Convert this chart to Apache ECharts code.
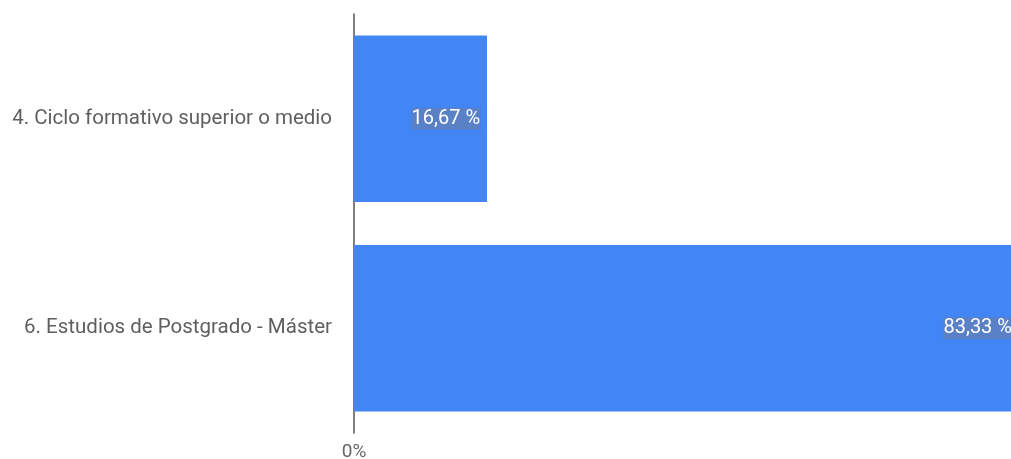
<!DOCTYPE html>
<html>
<head>
<meta charset="utf-8">
<script src="https://cdn.jsdelivr.net/npm/echarts@6/dist/echarts.min.js"></script>
<style>html,body{margin:0;padding:0;background:#fff;}#c{width:1011px;height:459px;}</style>
</head>
<body>
<div id="c"></div>
<script>
var categories = ['4. Ciclo formativo superior o medio', '6. Estudios de Postgrado - Máster'];
var values = [16.67, 83.33];
var tickLabels = ['0%'];

var chart = echarts.init(document.getElementById('c'));
chart.setOption({
  animation: false,
  grid: { left: 354, top: 14, width: 798, height: 419, containLabel: false, outerBoundsMode: 'none' },
  xAxis: {
    type: 'value', min: 0, max: 100, interval: 100,
    axisLine: { show: false }, axisTick: { show: false }, splitLine: { show: false },
    axisLabel: {
      color: '#666', fontSize: 19, fontFamily: 'Roboto', margin: 10,
      formatter: function (v) { return v === 0 ? tickLabels[0] : ''; }
    }
  },
  yAxis: {
    type: 'category', inverse: true, data: categories,
    axisLine: { show: true, lineStyle: { color: '#555', width: 1.5 } },
    axisTick: { show: false },
    axisLabel: { color: '#5f5f5f', fontSize: 20.5, fontFamily: 'Roboto', margin: 22 }
  },
  series: [{
    type: 'bar', data: values, barCategoryGap: '20.6%', clip: false,
    itemStyle: { color: '#4285f4' },
    label: {
      show: true, position: 'insideRight', distance: 7,
      color: '#fff', fontSize: 20, fontFamily: 'Roboto',
      backgroundColor: '#5a80c6', padding: [1, 0, 1, 0],
      formatter: function (p) { return p.value.toFixed(2).replace('.', ',') + ' %'; }
    }
  }]
});
</script>
</body>
</html>
